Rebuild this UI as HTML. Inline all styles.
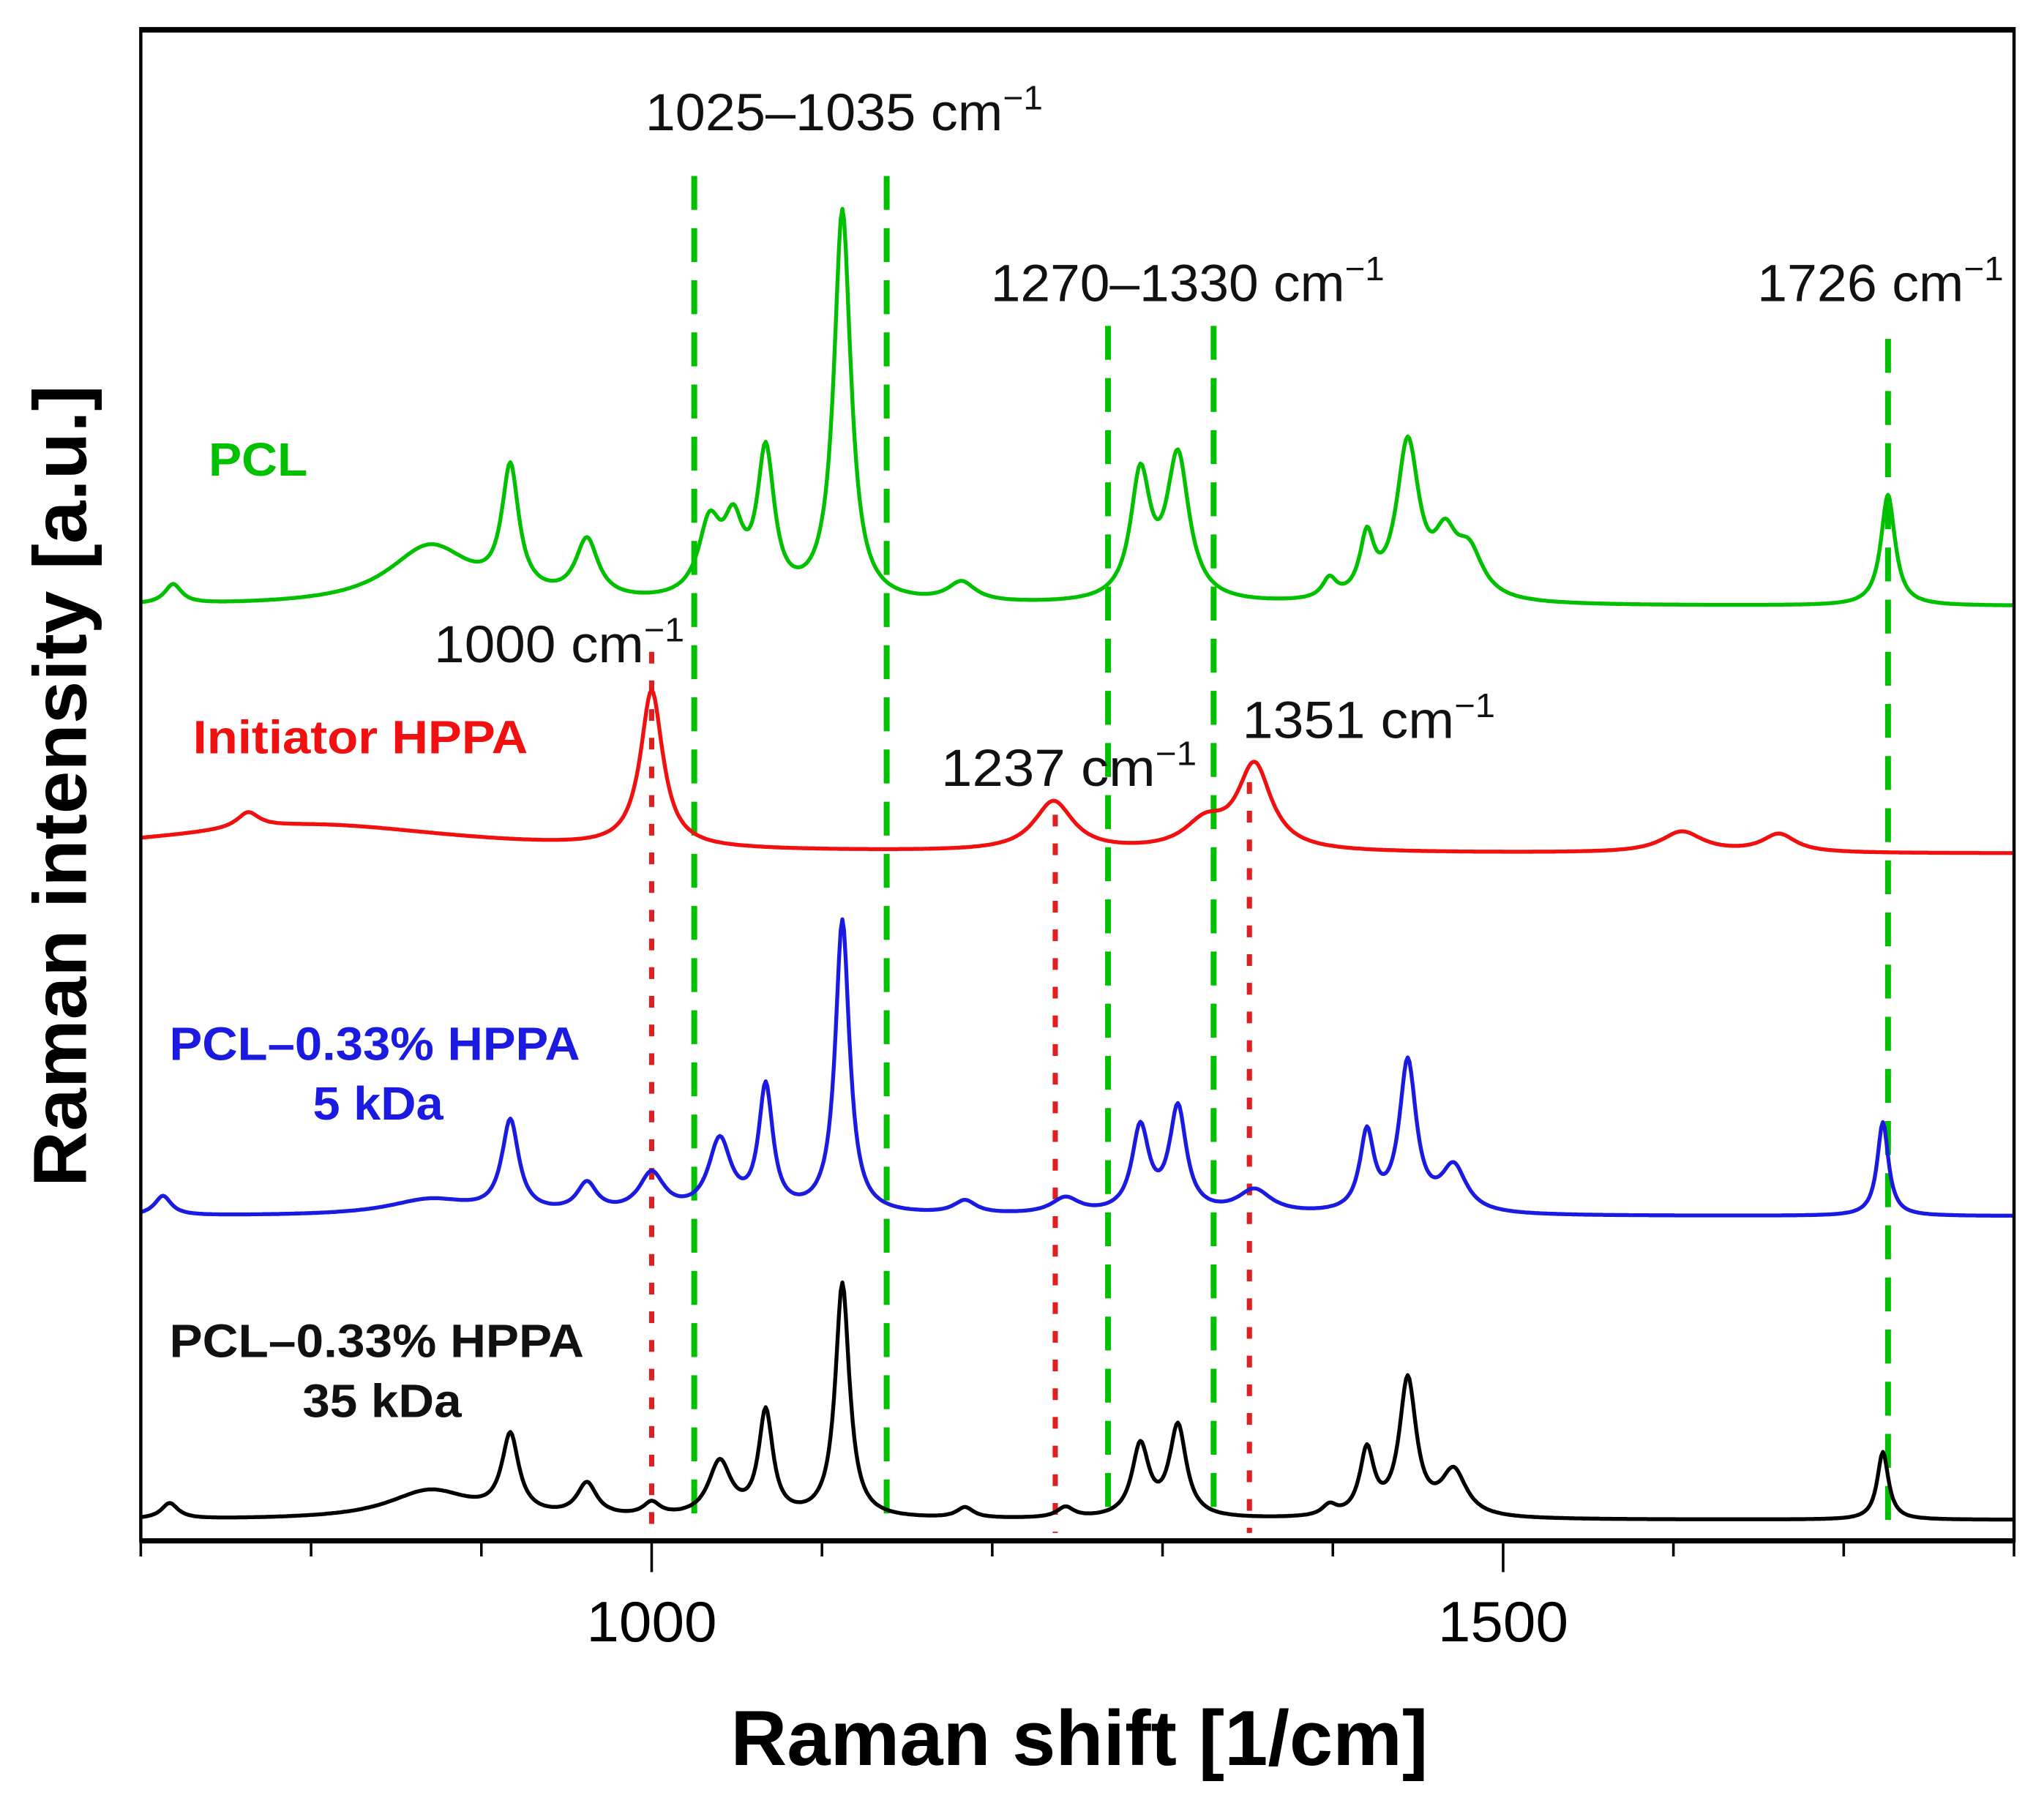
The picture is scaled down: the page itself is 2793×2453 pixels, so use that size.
<!DOCTYPE html>
<html><head><meta charset="utf-8"><style>
html,body{margin:0;padding:0;background:#fff}
svg{display:block}
text{font-family:"Liberation Sans",Arial,sans-serif}
</style></head><body>
<svg id="chart" width="2793" height="2453" viewBox="0 0 1568 1377" preserveAspectRatio="none" xmlns="http://www.w3.org/2000/svg">
<rect x="0" y="0" width="1568" height="1377" fill="#fff"/>
<g id="guides"></g>
<g id="series"></g>
<g id="axes"></g>
<g font-size="40" fill="#111">
<text x="495" y="100" textLength="305" lengthAdjust="spacingAndGlyphs">1025–1035 cm<tspan dy="-16" font-size="26">−1</tspan></text>
<text x="760" y="231" textLength="302" lengthAdjust="spacingAndGlyphs">1270–1330 cm<tspan dy="-16" font-size="26">−1</tspan></text>
<text x="1348" y="231" textLength="189" lengthAdjust="spacingAndGlyphs">1726 cm<tspan dy="-16" font-size="26">−1</tspan></text>
<text x="333" y="508" textLength="192" lengthAdjust="spacingAndGlyphs">1000 cm<tspan dy="-16" font-size="26">−1</tspan></text>
<text x="722" y="603" textLength="196" lengthAdjust="spacingAndGlyphs">1237 cm<tspan dy="-16" font-size="26">−1</tspan></text>
<text x="953" y="566" textLength="194" lengthAdjust="spacingAndGlyphs">1351 cm<tspan dy="-16" font-size="26">−1</tspan></text>
</g>
<g font-size="36" font-weight="bold">
<text x="160" y="365" fill="#00c000" textLength="76" lengthAdjust="spacingAndGlyphs">PCL</text>
<text x="148" y="578" fill="#f01010" textLength="257" lengthAdjust="spacingAndGlyphs">Initiator HPPA</text>
<text x="130" y="813" fill="#1a1ae0" textLength="315" lengthAdjust="spacingAndGlyphs">PCL–0.33% HPPA</text>
<text x="240" y="859" fill="#1a1ae0" textLength="100" lengthAdjust="spacingAndGlyphs">5 kDa</text>
<text x="130" y="1041" fill="#111" textLength="318" lengthAdjust="spacingAndGlyphs">PCL–0.33% HPPA</text>
<text x="232" y="1087" fill="#111" textLength="122" lengthAdjust="spacingAndGlyphs">35 kDa</text>
</g>
<text x="828" y="1354" text-anchor="middle" font-size="60" font-weight="bold" fill="#000" textLength="535" lengthAdjust="spacingAndGlyphs">Raman shift [1/cm]</text>
<text transform="translate(66,603) rotate(-90)" text-anchor="middle" font-size="58" font-weight="bold" fill="#000" textLength="615" lengthAdjust="spacingAndGlyphs">Raman intensity [a.u.]</text>
</svg>
<script>
// Peak data: wavenumber centers, heights (a.u. offsets), widths (cm^-1)
const pclCenters = [719, 870, 917, 962, 1034, 1048, 1067, 1112, 1182, 1287, 1309, 1398, 1420, 1444, 1466, 1480, 1726];
const pclHeights = [15, 45, 95, 45, 55, 50, 110, 300, 15, 95, 110, 15, 45, 120, 40, 35, 85];
const pclWidths  = [6, 30, 6, 8, 8, 7, 6, 6, 10, 7, 8, 5, 5, 8, 8, 10, 5];
const pclBase = 465;

const hppaCenters = [763, 800, 1000, 1236, 1325, 1354, 1605, 1662];
const hppaHeights = [12, 22, 120, 38, 20, 65, 16, 14];
const hppaWidths  = [8, 110, 8, 14, 15, 12, 15, 12];
const hppaBase = 655;

const k5Centers = [713, 870, 917, 962, 1000, 1040, 1067, 1112, 1184, 1243, 1287, 1309, 1354, 1420, 1444, 1471, 1723];
const k5Heights = [15, 12, 70, 22, 30, 55, 95, 225, 10, 12, 65, 80, 18, 60, 115, 35, 72];
const k5Widths  = [6, 30, 6, 7, 9, 8, 5, 5, 8, 10, 6, 6, 12, 5, 6, 9, 4];
const k5Base = 933;

const k35Centers = [717, 870, 917, 962, 1000, 1040, 1067, 1112, 1184, 1243, 1287, 1309, 1398, 1420, 1444, 1471, 1723];
const k35Heights = [12, 22, 60, 25, 10, 42, 80, 180, 8, 8, 55, 70, 8, 50, 105, 35, 52];
const k35Widths  = [6, 30, 6, 7, 6, 8, 5, 5, 6, 6, 6, 6, 5, 5, 6, 9, 4];
const k35Base = 1166;

const xTicksMajor = [1000, 1500];
const xTicksMinor = [700, 800, 900, 1100, 1200, 1300, 1400, 1600, 1700, 1800];
const greenLines = [1025, 1138, 1268, 1330, 1726];
const greenTops = [135, 135, 250, 250, 260];
const redLines = [1000, 1237, 1351];
const redTops = [500, 625, 600];

const X0 = 108, X1 = 1545, Y0 = 22, Y1 = 1182, WMIN = 700, WMAX = 1800;
function xs(w){ return X0 + (w - WMIN) * (X1 - X0) / (WMAX - WMIN); }
const NS = 'http://www.w3.org/2000/svg';
function mk(tag, attrs, parent){ const e = document.createElementNS(NS, tag); for (const k in attrs) e.setAttribute(k, attrs[k]); parent.appendChild(e); return e; }

function spectrum(centers, heights, widths, base){
  let d = '';
  for (let w = WMIN; w <= WMAX; w += 1){
    let v = 0;
    for (let i = 0; i < centers.length; i++){
      const t = (w - centers[i]) / widths[i];
      v += heights[i] / (1 + t * t);
    }
    d += (w === WMIN ? 'M' : 'L') + xs(w).toFixed(1) + ' ' + (base - v).toFixed(1);
  }
  return d;
}

const guides = document.getElementById('guides');
greenLines.forEach((w, i) => {
  const l = mk('line', {x1: xs(w), x2: xs(w), y1: greenTops[i], y2: 1166, stroke: '#00c000', 'stroke-width': 4.5, 'stroke-dasharray': '26 14'}, guides);
  
  
});
redLines.forEach((w, i) => {
  const l = mk('line', {x1: xs(w), x2: xs(w), y1: redTops[i], y2: 1176, stroke: '#e02020', 'stroke-width': 4, 'stroke-dasharray': '9 13'}, guides);
  
  
});

const series = document.getElementById('series');
const defs = [
  ['pcl-spectrum', pclCenters, pclHeights, pclWidths, pclBase, '#00c000'],
  ['hppa-spectrum', hppaCenters, hppaHeights, hppaWidths, hppaBase, '#f01010'],
  ['pcl-5kda-spectrum', k5Centers, k5Heights, k5Widths, k5Base, '#1a1ae0'],
  ['pcl-35kda-spectrum', k35Centers, k35Heights, k35Widths, k35Base, '#000']
];
defs.forEach(s => {
  const p = mk('path', {d: spectrum(s[1], s[2], s[3], s[4]), fill: 'none', stroke: s[5], 'stroke-width': 3, 'stroke-linejoin': 'round'}, series);
  
  
});

const axes = document.getElementById('axes');
const frame = mk('rect', {x: X0, y: Y0, width: X1 - X0, height: Y1 - Y0, fill: 'none', stroke: '#000', 'stroke-width': 2.5}, axes);


const xl = mk('line', {x1: X0, x2: X1, y1: Y1, y2: Y1, stroke: '#000', 'stroke-width': 4}, axes);


const tl = mk('line', {x1: X0, x2: X1, y1: Y0 + 1, y2: Y0 + 1, stroke: '#000', 'stroke-width': 4}, axes);


xTicksMinor.forEach(w => {
  const t = mk('line', {x1: xs(w), x2: xs(w), y1: Y1, y2: Y1 + 12, stroke: '#000', 'stroke-width': 2}, axes);
  
  
});
xTicksMajor.forEach(w => {
  const t = mk('line', {x1: xs(w), x2: xs(w), y1: Y1, y2: Y1 + 24, stroke: '#000', 'stroke-width': 2}, axes);
  
  
  const lb = mk('text', {x: xs(w), y: 1259, 'text-anchor': 'middle', 'font-size': 44, fill: '#000', textLength: 100, lengthAdjust: 'spacingAndGlyphs'}, axes);
  lb.textContent = w;
  
  
});
</script>
</body></html>
